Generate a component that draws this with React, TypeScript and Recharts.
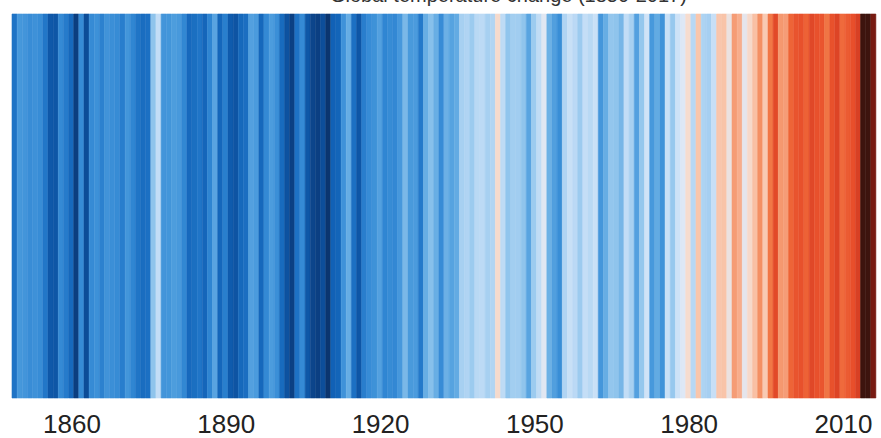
import React from 'react';
import { BarChart, Bar, XAxis, YAxis, Cell } from 'recharts';

// Global annual temperature anomalies, 1850-2017 (°C)
const anomalies = [
  -0.373, -0.218, -0.228, -0.269, -0.248, -0.272, -0.358, -0.461, -0.467, -0.284,
  -0.343, -0.407, -0.524, -0.278, -0.494, -0.279, -0.251, -0.321, -0.238, -0.262,
  -0.276, -0.335, -0.227, -0.304, -0.368, -0.395, -0.384, -0.075, 0.035, -0.230,
  -0.227, -0.2, -0.213, -0.296, -0.409, -0.389, -0.367, -0.418, -0.307, -0.171,
  -0.416, -0.33, -0.455, -0.473, -0.41, -0.39, -0.186, -0.206, -0.412, -0.289,
  -0.203, -0.259, -0.402, -0.479, -0.52, -0.377, -0.283, -0.465, -0.511, -0.522,
  -0.49, -0.544, -0.437, -0.424, -0.244, -0.141, -0.383, -0.468, -0.333, -0.275,
  -0.247, -0.187, -0.302, -0.276, -0.294, -0.215, -0.108, -0.21, -0.206, -0.35,
  -0.137, -0.087, -0.137, -0.273, -0.131, -0.178, -0.147, -0.026, -0.006, -0.052,
  0.014, 0.02, -0.027, -0.004, 0.144, 0.025, -0.071, -0.038, -0.039, -0.074,
  -0.173, -0.052, 0.028, 0.097, -0.129, -0.19, -0.267, -0.007, 0.046, 0.017,
  -0.049, 0.038, 0.014, 0.048, -0.223, -0.14, -0.068, -0.074, -0.113, 0.032,
  -0.027, -0.186, -0.065, 0.062, -0.214, -0.149, -0.241, 0.047, -0.062, 0.057,
  0.092, 0.14, 0.011, 0.194, -0.014, -0.03, 0.045, 0.192, 0.198, 0.118,
  0.296, 0.254, 0.105, 0.148, 0.208, 0.325, 0.183, 0.39, 0.539, 0.306,
  0.294, 0.441, 0.496, 0.505, 0.447, 0.545, 0.506, 0.491, 0.395, 0.506,
  0.56, 0.425, 0.47, 0.514, 0.579, 0.763, 0.797, 0.677,
];

const firstYear = 1850;
const years = anomalies.map((_, i) => firstYear + i);
const tickYears = [1860, 1890, 1920, 1950, 1980, 2010];

// colour stops, picked from the printed stripes
const stops: [number, string][] = [
  [-0.56, '#0a2d62'],
  [-0.5, '#0c4a94'],
  [-0.44, '#1060b5'],
  [-0.37, '#1f74c6'],
  [-0.3, '#3187d3'],
  [-0.22, '#4597db'],
  [-0.14, '#66ade4'],
  [-0.06, '#98c9ee'],
  [0.02, '#bcdaf5'],
  [0.09, '#dde9f8'],
  [0.14, '#f6dccf'],
  [0.2, '#f9c3a8'],
  [0.28, '#f6a27f'],
  [0.36, '#f2824f'],
  [0.44, '#ee6437'],
  [0.52, '#e74d2a'],
  [0.6, '#d23c22'],
  [0.67, '#7d1c12'],
  [0.75, '#3d140e'],
];

function hexToRgb(h: string) {
  return [1, 3, 5].map((i) => parseInt(h.slice(i, i + 2), 16));
}

function colorFor(v: number): string {
  if (v <= stops[0][0]) return stops[0][1];
  for (let i = 1; i < stops.length; i++) {
    if (v <= stops[i][0]) {
      const [v0, c0] = stops[i - 1];
      const [v1, c1] = stops[i];
      const t = (v - v0) / (v1 - v0);
      const a = hexToRgb(c0);
      const b = hexToRgb(c1);
      const rgb = a.map((x, k) => Math.round(x + (b[k] - x) * t));
      return `rgb(${rgb.join(',')})`;
    }
  }
  return stops[stops.length - 1][1];
}

const data = years.map((year, i) => ({ year, anomaly: anomalies[i], band: 1 }));

const YearTick = (props: any) => {
  const { x, y, payload } = props;
  if (!tickYears.includes(payload.value)) return null;
  return (
    <text
      x={x + 6}
      y={y + 27}
      textAnchor="middle"
      fontFamily="'Liberation Sans', Arial, sans-serif"
      fontSize={26}
      fill="#222"
    >
      {payload.value}
    </text>
  );
};

const App = () => {
  return (
    <div style={{ position: 'relative', width: 881, height: 438, overflow: 'hidden', background: '#fff' }}>
      <style>{`body{margin:0}`}</style>
      <div
        style={{
          position: 'absolute',
          top: -15,
          left: 330,
          fontFamily: "'Liberation Sans', Arial, sans-serif",
          fontSize: 20,
          lineHeight: '20px',
          color: '#333',
          whiteSpace: 'nowrap',
        }}
      >
        Global temperature change (1850-2017)
      </div>
      <BarChart
        width={881}
        height={438}
        data={data}
        margin={{ top: 14, right: 5, left: 12, bottom: 0 }}
        barCategoryGap={0}
        barGap={0}
      >
        <XAxis
          dataKey="year"
          interval={0}
          axisLine={false}
          tickLine={false}
          height={40}
          tick={<YearTick />}
        />
        <YAxis hide domain={[0, 1]} />
        <Bar dataKey="band" isAnimationActive={false}>
          {data.map((d) => (
            <Cell key={d.year} fill={colorFor(d.anomaly)} stroke={colorFor(d.anomaly)} strokeWidth={0.6} />
          ))}
        </Bar>
      </BarChart>
    </div>
  );
};

export default App;
